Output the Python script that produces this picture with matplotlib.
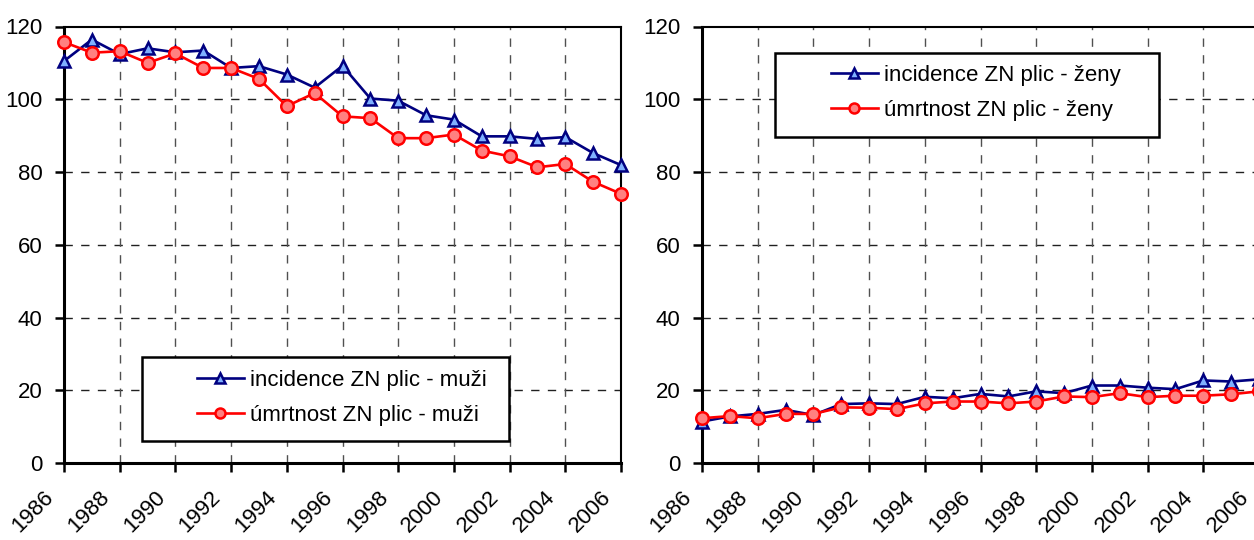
import matplotlib
matplotlib.use('Agg')
import matplotlib.pyplot as plt
from matplotlib import font_manager
from matplotlib.patches import Rectangle
from matplotlib.transforms import offset_copy

years = list(range(1986, 2007))
tick_years = list(range(1986, 2007, 2))
y_ticks = [0, 20, 40, 60, 80, 100, 120]

inc_muzi = [110.5, 116.4, 112.4, 114.0, 112.9, 113.4, 108.6, 109.1, 106.8, 103.2, 109.2,
            100.2, 99.6, 95.6, 94.4, 89.8, 89.8, 89.1, 89.6, 85.2, 81.9]
umr_muzi = [115.7, 112.8, 113.2, 110.0, 112.6, 108.6, 108.6, 105.6, 98.1, 101.7, 95.3,
            94.8, 89.3, 89.3, 90.3, 85.9, 84.3, 81.3, 82.2, 77.3, 74.0]
inc_zeny = [11.4, 12.8, 13.5, 14.6, 13.2, 16.2, 16.4, 16.2, 18.2, 17.8, 19.0,
            18.3, 19.7, 19.2, 21.3, 21.3, 20.7, 20.3, 22.7, 22.4, 23.0]
umr_zeny = [12.3, 12.9, 12.3, 13.5, 13.5, 15.3, 15.2, 14.8, 16.4, 16.9, 16.9,
            16.4, 16.9, 18.3, 18.1, 19.2, 18.1, 18.5, 18.5, 18.9, 19.7]

labels_muzi = ['incidence ZN plic - muži', 'úmrtnost ZN plic - muži']
labels_zeny = ['incidence ZN plic - ženy', 'úmrtnost ZN plic - ženy']

# narrow Arial-like font if available
try:
    font_manager.findfont('Liberation Sans Narrow', fallback_to_default=False)
    fam = ['Liberation Sans Narrow', 'DejaVu Sans']
    fs_tick, fs_leg = 17, 19
except Exception:
    fam = ['Liberation Sans', 'DejaVu Sans']
    fs_tick, fs_leg = 16, 16
plt.rcParams['font.family'] = fam

NAVY = '#000080'
BLUE_FACE = '#7FB0FF'
RED = '#FF0000'
RED_FACE = '#FF8080'

fig = plt.figure(figsize=(12.54, 5.4), dpi=100)
ax_w = 557 / 1254
ax_h = 436.5 / 540
ax1 = fig.add_axes([64 / 1254, 77 / 540, ax_w, ax_h])
ax2 = fig.add_axes([702 / 1254, 77 / 540, ax_w, ax_h])


def style_axes(ax):
    ax.set_xlim(1986, 2006)
    ax.set_ylim(0, 120)
    ax.set_yticks(y_ticks)
    ax.set_xticks(tick_years)
    ax.set_xticklabels([])
    ax.tick_params(axis='y', direction='out', length=6.5, width=1.8, pad=9, labelsize=fs_tick)
    ax.tick_params(axis='x', direction='out', length=6.5, width=1.8)
    for s in ['left', 'bottom']:
        ax.spines[s].set_linewidth(2.2)
    for s in ['top', 'right']:
        ax.spines[s].set_linewidth(1.5)
    for y in y_ticks[1:-1]:
        ax.axhline(y, color='#202020', lw=1.0, ls=(0, (6, 6)), zorder=1)
    for x in tick_years[1:-1]:
        ax.axvline(x, color='#505050', lw=1.0, ls=(0, (6, 6)), zorder=1)
    tr = offset_copy(ax.get_xaxis_transform(), fig=fig, x=-6, y=-24, units='dots')
    for yr in tick_years:
        ax.text(yr, 0, str(yr), transform=tr, rotation=45, ha='right', va='top',
                fontsize=fs_tick, clip_on=False)


def draw(ax, inc, umr, labels, leg_x, leg_y, box):
    style_axes(ax)
    ax.plot(years, inc, color=NAVY, lw=1.9, marker='^', ms=9, mfc=BLUE_FACE,
            mec=NAVY, mew=1.8, label=labels[0], zorder=3, clip_on=False)
    ax.plot(years, umr, color=RED, lw=1.9, marker='o', ms=9, mfc=RED_FACE,
            mec=RED, mew=1.8, label=labels[1], zorder=3, clip_on=False)
    ax.add_patch(Rectangle((box[0], box[1]), box[2], box[3], transform=ax.transAxes,
                           facecolor='white', edgecolor='black', lw=1.8, zorder=4))
    leg = ax.legend(loc='center left', bbox_to_anchor=(leg_x, leg_y), frameon=False,
                    fontsize=fs_leg, handlelength=2.1, handletextpad=0.3,
                    labelspacing=0.65, borderpad=0, borderaxespad=0, markerscale=0.8)
    leg.set_zorder(5)


draw(ax1, inc_muzi, umr_muzi, labels_muzi, (197 - 64) / 557, 0.149,
     (0.140, 0.050, 0.659, 0.193))
draw(ax2, inc_zeny, umr_zeny, labels_zeny, (831 - 702) / 557, 0.848,
     (0.131, 0.747, 0.689, 0.193))

fig.savefig('out.png', dpi=100)
